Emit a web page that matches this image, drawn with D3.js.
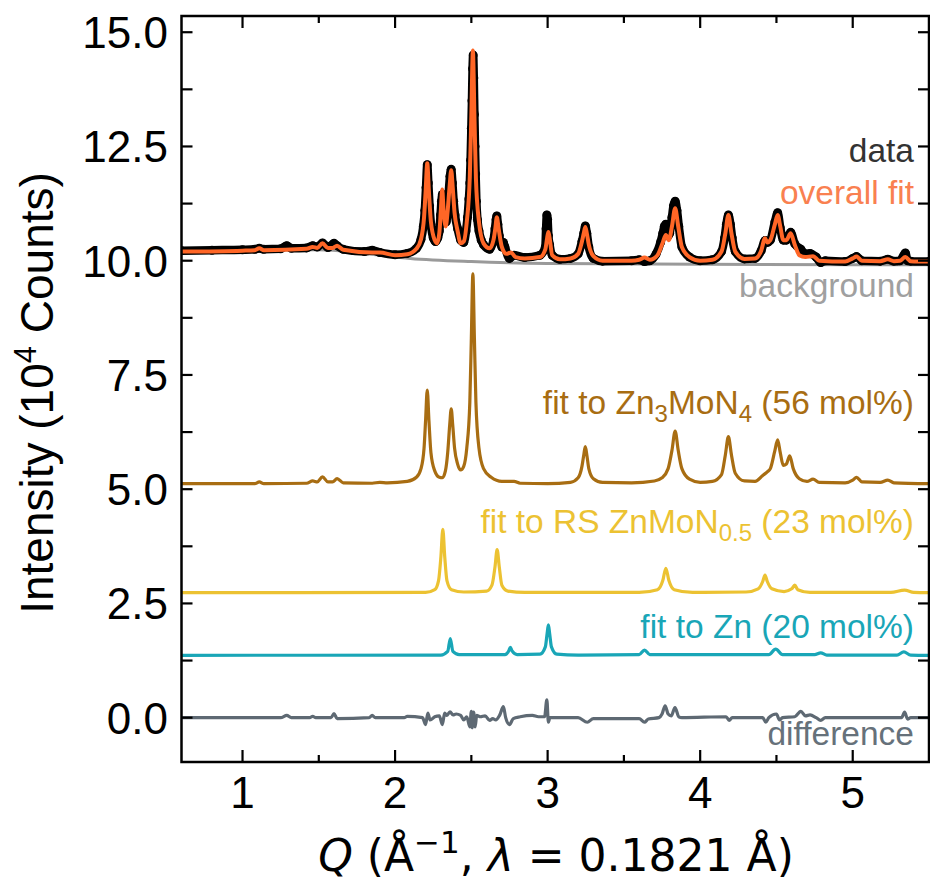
<!DOCTYPE html>
<html>
<head>
<meta charset="utf-8">
<script src="https://cdn.jsdelivr.net/npm/d3@7"></script>
<style>
  html, body { margin: 0; padding: 0; background: #fff; }
  svg { display: block; }
</style>
</head>
<body>
<svg id="chart" width="930" height="884"></svg>
<script>
// ---------------- DATA ----------------
const xTicksMajor = [1, 2, 3, 4, 5];
const xTicksMinor = [1.5, 2.5, 3.5, 4.5];
const yTicksMajor = [0, 2.5, 5, 7.5, 10, 12.5, 15];
const yTicksMinor = [1.25, 3.75, 6.25, 8.75, 11.25, 13.75];

const backgroundSeries = [[0.6,10.2],[1.0,10.22],[1.5,10.24],[1.8,10.16],[2.1,10.05],[2.5,9.98],[3.0,9.94],[3.5,9.93],[4.0,9.92],[5.0,9.91],[5.5,9.91]];

const dataSeries = [[0.6,10.22],[0.8,10.23],[1.0,10.24],[1.08,10.25],[1.11,10.27],[1.14,10.25],[1.25,10.26],[1.29,10.33],[1.32,10.27],[1.42,10.28],[1.46,10.33],[1.49,10.3],[1.524,10.39],[1.56,10.29],[1.6,10.38],[1.62,10.33],[1.66,10.25],[1.8,10.2],[1.85,10.23],[1.9,10.18],[2.0,10.13],[2.08,10.16],[2.14,10.27],[2.17,10.47],[2.185,10.75],[2.195,11.1],[2.203,11.6],[2.211,12.1],[2.218,11.7],[2.226,11.2],[2.235,10.8],[2.25,10.5],[2.265,10.42],[2.28,10.5],[2.29,10.65],[2.298,11.0],[2.304,11.3],[2.31,11.45],[2.318,11.2],[2.326,10.95],[2.335,10.85],[2.345,11.15],[2.352,11.5],[2.36,11.85],[2.368,12.0],[2.376,11.7],[2.384,11.3],[2.393,11.0],[2.41,10.7],[2.43,10.45],[2.45,10.4],[2.465,10.65],[2.475,10.95],[2.484,11.35],[2.49,11.7],[2.495,12.2],[2.5,12.9],[2.504,13.5],[2.508,14.2],[2.512,14.5],[2.516,14.0],[2.52,13.2],[2.524,12.5],[2.528,11.9],[2.533,11.3],[2.54,10.9],[2.55,10.65],[2.565,10.45],[2.58,10.35],[2.62,10.25],[2.645,10.45],[2.655,10.7],[2.662,10.9],[2.667,10.98],[2.674,10.8],[2.683,10.55],[2.7,10.3],[2.71,10.4],[2.72,10.3],[2.75,10.05],[2.78,10.12],[2.85,10.07],[2.95,10.12],[2.985,10.3],[2.99,10.7],[2.995,11.0],[3.0,10.9],[3.005,10.55],[3.013,10.35],[3.03,10.12],[3.08,10.03],[3.15,10.05],[3.2,10.15],[3.225,10.42],[3.237,10.6],[3.247,10.76],[3.257,10.6],[3.27,10.3],[3.3,10.05],[3.36,9.99],[3.55,10.0],[3.6,10.02],[3.635,9.98],[3.67,10.0],[3.71,10.14],[3.74,10.4],[3.755,10.6],[3.765,10.75],[3.775,10.8],[3.79,10.55],[3.8,10.6],[3.815,10.95],[3.825,11.2],[3.836,11.3],[3.848,11.1],[3.86,10.75],[3.88,10.3],[3.93,10.08],[4.0,10.0],[4.08,10.02],[4.14,10.2],[4.16,10.5],[4.172,10.8],[4.185,11.0],[4.198,10.8],[4.21,10.5],[4.23,10.2],[4.29,10.04],[4.36,10.05],[4.4,10.22],[4.425,10.44],[4.44,10.4],[4.46,10.45],[4.49,10.85],[4.508,11.05],[4.525,10.72],[4.545,10.45],[4.565,10.45],[4.593,10.62],[4.62,10.37],[4.66,10.25],[4.69,10.15],[4.72,10.16],[4.76,10.08],[4.79,9.96],[4.82,10.0],[4.95,9.98],[5.0,10.05],[5.025,10.09],[5.06,10.0],[5.18,9.99],[5.23,10.03],[5.27,9.99],[5.31,10.0],[5.345,10.17],[5.36,10.0],[5.38,9.99],[5.5,9.98]];

const fitSeries = [[0.6,10.2],[1.0,10.22],[1.08,10.23],[1.11,10.27],[1.14,10.23],[1.42,10.26],[1.46,10.3],[1.49,10.28],[1.524,10.38],[1.56,10.28],[1.59,10.28],[1.62,10.33],[1.66,10.24],[1.85,10.18],[1.9,10.18],[2.0,10.12],[2.08,10.14],[2.14,10.26],[2.17,10.47],[2.19,10.95],[2.2,11.5],[2.211,12.13],[2.222,11.5],[2.235,10.85],[2.26,10.45],[2.275,10.38],[2.29,10.6],[2.3,11.1],[2.309,11.56],[2.318,11.1],[2.332,10.75],[2.345,11.1],[2.358,11.65],[2.368,11.98],[2.378,11.6],[2.39,11.05],[2.41,10.65],[2.43,10.38],[2.45,10.42],[2.47,10.85],[2.49,11.85],[2.5,13.2],[2.51,14.6],[2.52,13.2],[2.53,11.8],[2.55,10.85],[2.58,10.38],[2.62,10.27],[2.645,10.45],[2.657,10.7],[2.667,10.95],[2.679,10.7],[2.7,10.3],[2.73,10.15],[2.76,10.18],[2.79,10.08],[2.85,10.05],[2.95,10.08],[2.985,10.25],[2.997,10.5],[3.005,10.63],[3.013,10.5],[3.03,10.12],[3.08,10.03],[3.15,10.05],[3.2,10.15],[3.225,10.42],[3.237,10.6],[3.247,10.74],[3.257,10.6],[3.27,10.35],[3.3,10.1],[3.36,10.0],[3.55,10.0],[3.6,10.02],[3.635,10.07],[3.67,10.02],[3.72,10.12],[3.755,10.4],[3.775,10.56],[3.795,10.45],[3.815,10.75],[3.836,11.15],[3.856,10.75],[3.88,10.3],[3.93,10.08],[4.0,10.0],[4.08,10.02],[4.14,10.2],[4.165,10.6],[4.185,11.0],[4.205,10.6],[4.23,10.2],[4.29,10.04],[4.36,10.05],[4.4,10.22],[4.425,10.49],[4.44,10.4],[4.46,10.45],[4.49,10.8],[4.508,11.0],[4.525,10.75],[4.545,10.45],[4.565,10.45],[4.593,10.6],[4.62,10.35],[4.65,10.12],[4.69,10.08],[4.74,10.1],[4.78,10.0],[4.95,9.98],[5.0,10.05],[5.025,10.09],[5.06,10.0],[5.18,9.99],[5.23,10.03],[5.27,9.99],[5.31,10.0],[5.345,10.08],[5.38,9.99],[5.5,9.98]];

const zn3mon4Series = [[0.6,5.12],[1.08,5.12],[1.11,5.16],[1.14,5.12],[1.42,5.13],[1.46,5.18],[1.49,5.16],[1.524,5.27],[1.56,5.16],[1.59,5.16],[1.62,5.23],[1.66,5.14],[1.85,5.13],[1.9,5.15],[1.95,5.14],[2.08,5.17],[2.14,5.26],[2.17,5.45],[2.19,5.9],[2.2,6.5],[2.211,7.17],[2.222,6.5],[2.235,5.8],[2.26,5.4],[2.29,5.26],[2.31,5.25],[2.33,5.4],[2.345,5.8],[2.358,6.4],[2.368,6.76],[2.378,6.4],[2.39,5.9],[2.41,5.55],[2.43,5.42],[2.45,5.5],[2.47,5.9],[2.49,6.9],[2.5,8.3],[2.51,9.71],[2.52,8.3],[2.53,6.9],[2.55,5.9],[2.58,5.45],[2.63,5.26],[2.7,5.17],[2.78,5.17],[2.82,5.13],[3.0,5.12],[3.15,5.15],[3.2,5.25],[3.225,5.5],[3.237,5.75],[3.247,5.93],[3.257,5.75],[3.27,5.45],[3.3,5.23],[3.36,5.15],[3.55,5.14],[3.7,5.18],[3.75,5.25],[3.79,5.45],[3.815,5.85],[3.836,6.27],[3.856,5.85],[3.88,5.45],[3.93,5.22],[4.0,5.15],[4.08,5.17],[4.14,5.32],[4.165,5.75],[4.185,6.15],[4.205,5.75],[4.23,5.35],[4.29,5.18],[4.36,5.17],[4.41,5.3],[4.44,5.38],[4.46,5.45],[4.49,5.85],[4.508,6.08],[4.525,5.8],[4.545,5.52],[4.565,5.55],[4.587,5.73],[4.61,5.45],[4.65,5.23],[4.7,5.17],[4.74,5.22],[4.78,5.15],[4.95,5.14],[5.0,5.2],[5.025,5.26],[5.06,5.16],[5.18,5.15],[5.23,5.2],[5.27,5.14],[5.5,5.12]];

const rsZnMoNSeries = [[0.6,2.735],[2.2,2.74],[2.26,2.8],[2.285,3.0],[2.3,3.5],[2.313,4.12],[2.326,3.5],[2.34,3.0],[2.37,2.8],[2.45,2.75],[2.6,2.77],[2.635,2.9],[2.655,3.3],[2.669,3.68],[2.683,3.3],[2.7,2.9],[2.74,2.77],[2.85,2.74],[3.6,2.74],[3.72,2.8],[3.755,3.0],[3.775,3.27],[3.795,3.0],[3.83,2.8],[3.95,2.74],[4.3,2.75],[4.38,2.82],[4.41,2.98],[4.425,3.12],[4.44,2.98],[4.47,2.82],[4.55,2.76],[4.6,2.82],[4.62,2.9],[4.64,2.8],[4.72,2.74],[5.25,2.74],[5.34,2.79],[5.4,2.74],[5.5,2.735]];

const znSeries = [[0.6,1.365],[2.3,1.37],[2.345,1.45],[2.362,1.73],[2.379,1.45],[2.42,1.38],[2.72,1.38],[2.745,1.46],[2.756,1.54],[2.767,1.46],[2.8,1.38],[2.95,1.39],[2.985,1.55],[2.997,1.85],[3.005,2.03],[3.013,1.85],[3.025,1.55],[3.06,1.39],[3.2,1.37],[3.6,1.38],[3.635,1.48],[3.67,1.38],[4.45,1.38],[4.495,1.5],[4.54,1.38],[4.75,1.38],[4.79,1.42],[4.83,1.37],[5.29,1.37],[5.335,1.44],[5.38,1.37],[5.5,1.365]];

const differenceSeries = [[0.6,0],[1.25,0],[1.29,0.05],[1.32,0],[1.44,0],[1.46,0.03],[1.48,0],[1.58,0],[1.6,0.09],[1.62,-0.02],[1.83,0],[1.85,0.05],[1.87,0],[2.06,0],[2.08,0.03],[2.18,0],[2.2,-0.15],[2.215,0.1],[2.23,-0.05],[2.26,0.02],[2.29,0.04],[2.31,-0.15],[2.325,0.1],[2.34,0.05],[2.36,0.13],[2.38,0.06],[2.4,0.08],[2.43,0.05],[2.45,-0.05],[2.47,0.02],[2.49,-0.2],[2.5,0.14],[2.505,-0.22],[2.515,0.12],[2.525,-0.2],[2.535,0.05],[2.56,0.02],[2.59,0.04],[2.62,-0.06],[2.64,-0.02],[2.66,-0.05],[2.685,0.05],[2.71,0.24],[2.725,0],[2.75,-0.15],[2.775,-0.02],[2.82,0.02],[2.9,0.05],[2.94,0.02],[2.98,0.02],[2.995,0.39],[3.005,-0.1],[3.015,0],[3.2,0],[3.26,-0.1],[3.3,-0.02],[3.6,-0.02],[3.635,-0.1],[3.66,-0.03],[3.73,0],[3.75,0.08],[3.77,0.26],[3.79,0.08],[3.81,0.04],[3.835,0.22],[3.86,0.02],[3.88,0],[4.17,0.02],[4.19,-0.06],[4.21,0],[4.41,0],[4.43,-0.1],[4.45,0],[4.5,0.08],[4.52,-0.05],[4.54,0],[4.62,0.02],[4.66,0.14],[4.69,0.04],[4.72,0.06],[4.76,0],[4.79,-0.06],[4.82,0],[5.32,0],[5.34,0.12],[5.36,-0.03],[5.38,0],[5.5,0]];

// ---------------- LAYOUT ----------------
const svg = d3.select("#chart");
const L = 181.5, R = 929, T = 16, B = 762;
const x = d3.scaleLinear().domain([0.6, 5.5]).range([L, R]);
const y = d3.scaleLinear().domain([-0.97, 15.355]).range([B, T]);

const SANS = "'Liberation Sans', Arial, Helvetica, sans-serif";

const clip = svg.append("defs").append("clipPath").attr("id", "plotclip");
clip.append("rect").attr("x", L).attr("y", T).attr("width", R - L).attr("height", B - T);

const plot = svg.append("g").attr("clip-path", "url(#plotclip)");
const line = d3.line().x(d => x(d[0])).y(d => y(d[1])).curve(d3.curveMonotoneX);

function drawLine(data, color, width) {
  plot.append("path").datum(data)
    .attr("d", line).attr("fill", "none")
    .attr("stroke", color).attr("stroke-width", width)
    .attr("stroke-linejoin", "round").attr("stroke-linecap", "round");
}

// background
drawLine(backgroundSeries, "#9a9a9a", 3);
// data: thick black trace + markers
drawLine(dataSeries, "#000", 8.5);
plot.append("g").selectAll("circle").data(dataSeries).join("circle")
  .attr("cx", d => x(d[0])).attr("cy", d => y(d[1])).attr("r", 4.5).attr("fill", "#000");
// overall fit
drawLine(fitSeries, "#ff6626", 4);
// components
drawLine(zn3mon4Series, "#a86d12", 3.2);
drawLine(rsZnMoNSeries, "#ecc232", 3.2);
drawLine(znSeries, "#19a6b7", 3.2);
drawLine(differenceSeries, "#5e6973", 3.2);

// ---------------- AXES ----------------
const axes = svg.append("g");
const tickW = 2.2;
function xTicks(vals, len) {
  vals.forEach(v => {
    axes.append("line").attr("x1", x(v)).attr("x2", x(v)).attr("y1", B).attr("y2", B - len)
      .attr("stroke", "#000").attr("stroke-width", tickW);
    axes.append("line").attr("x1", x(v)).attr("x2", x(v)).attr("y1", T).attr("y2", T + len)
      .attr("stroke", "#000").attr("stroke-width", tickW);
  });
}
function yTicks(vals, len) {
  vals.forEach(v => {
    axes.append("line").attr("x1", L).attr("x2", L + len).attr("y1", y(v)).attr("y2", y(v))
      .attr("stroke", "#000").attr("stroke-width", tickW);
    axes.append("line").attr("x1", R).attr("x2", R - len).attr("y1", y(v)).attr("y2", y(v))
      .attr("stroke", "#000").attr("stroke-width", tickW);
  });
}
xTicks(xTicksMajor, 12);
xTicks(xTicksMinor, 7);
yTicks(yTicksMajor, 11);
yTicks(yTicksMinor, 11);

axes.append("rect").attr("x", L).attr("y", T).attr("width", R - L).attr("height", B - T)
  .attr("fill", "none").attr("stroke", "#000").attr("stroke-width", 2.5);

// tick labels
axes.selectAll("text.xt").data(xTicksMajor).join("text").attr("class", "xt")
  .attr("x", d => x(d)).attr("y", 808).attr("text-anchor", "middle")
  .attr("font-family", SANS).attr("font-size", 44).attr("fill", "#000")
  .text(d => d3.format("d")(d));
axes.selectAll("text.yt").data(yTicksMajor).join("text").attr("class", "yt")
  .attr("x", 168).attr("y", d => y(d) + 16).attr("text-anchor", "end")
  .attr("font-family", SANS).attr("font-size", 44).attr("fill", "#000")
  .text(d => d3.format(".1f")(d));

// y axis label
const yl = svg.append("text")
  .attr("transform", "translate(53,393) rotate(-90)")
  .attr("text-anchor", "middle").attr("font-family", SANS).attr("font-size", 46).attr("fill", "#000");
yl.append("tspan").text("Intensity (10");
yl.append("tspan").attr("dy", -17).attr("font-size", 31).text("4");
yl.append("tspan").attr("dy", 17).text(" Counts)");

// x axis label (mathtext style, DejaVu Sans)
const xl = svg.append("text")
  .attr("x", 556).attr("y", 871).attr("text-anchor", "middle")
  .attr("font-family", "'DejaVu Sans', sans-serif").attr("font-size", 44).attr("fill", "#000");
xl.append("tspan").attr("font-style", "italic").text("Q");
xl.append("tspan").text(" (Å");
xl.append("tspan").attr("dy", -18).attr("font-size", 31).text("−1");
xl.append("tspan").attr("dy", 18).text(", ");
xl.append("tspan").attr("font-style", "italic").text("λ");
xl.append("tspan").text(" = 0.1821 Å)");

// ---------------- ANNOTATIONS ----------------
const FS = 33.5, SUB = 24, SHIFT = 8;
const ann = svg.append("g").attr("font-family", SANS).attr("font-size", FS).attr("text-anchor", "end");
function label(yPos, color, parts) {
  const t = ann.append("text").attr("x", 914).attr("y", yPos).attr("fill", color);
  let shift = 0;
  parts.forEach(p => {
    if (typeof p === "string") {
      t.append("tspan").attr("dy", -shift).attr("font-size", FS).text(p);
      shift = 0;
    } else {
      t.append("tspan").attr("dy", SHIFT - shift).attr("font-size", SUB).text(p.sub);
      shift = SHIFT;
    }
  });
}
label(162, "#333333", ["data"]);
label(204, "#f98050", ["overall fit"]);
label(297, "#a0a0a0", ["background"]);
label(414, "#a86d12", ["fit to Zn", {sub: "3"}, "MoN", {sub: "4"}, " (56 mol%)"]);
label(533, "#ecc232", ["fit to RS ZnMoN", {sub: "0.5"}, " (23 mol%)"]);
label(638, "#19a6b7", ["fit to Zn (20 mol%)"]);
label(745, "#66717a", ["difference"]);
</script>
</body>
</html>
